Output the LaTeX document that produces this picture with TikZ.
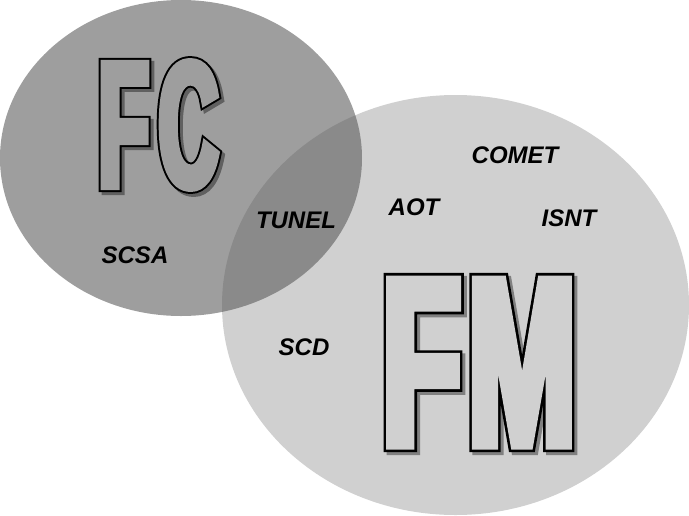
\documentclass[tikz,border=0pt]{standalone}
\usepackage{fontspec}
\setmainfont{Liberation Sans}

\newfontfamily\fcfont{Liberation Sans Bold}[FakeStretch=0.46,FakeBold=4]
\newfontfamily\fcrim{Liberation Sans Bold}[FakeStretch=0.46,FakeBold=6.2]
\newfontfamily\fmfont{Liberation Sans Bold}[FakeStretch=0.54,FakeBold=4]
\newfontfamily\fmrim{Liberation Sans Bold}[FakeStretch=0.54,FakeBold=6.2]

\definecolor{fmgray}{RGB}{208,208,208}
\definecolor{fcgray}{RGB}{86,86,86}
\definecolor{fcback}{RGB}{158,158,158}
\definecolor{fcshade}{RGB}{96,96,96}
\definecolor{fmshade}{RGB}{128,128,128}

% hollow letters: #1 rim font, #2 fill font, #3 fill colour, #4 shadow colour, #5 text
\newcommand\hollow[5]{%
  \rlap{\kern3pt\raisebox{-3pt}{#1\color{#4}#5}}%
  \rlap{#1\color{black}#5}%
  {#2\color{#3}#5}}

\tikzset{
  method/.style={inner sep=0pt, font=\bfseries\itshape\fontsize{24}{24}\selectfont},
  bigword/.style={inner sep=0pt, miter limit=2}
}

\begin{document}
\begin{tikzpicture}[x=1pt,y=-1pt]
  \useasboundingbox (0,0) rectangle (689,515);

  % the two sets
  \fill[fmgray] (455.5,305) ellipse [x radius=233.5pt, y radius=210pt];
  \fill[fcgray, fill opacity=.574] (181,158) ellipse [x radius=181pt, y radius=158pt];

  \begin{scope}[every node/.style={bigword}]
    \node (fc) at (158.5,126.5)
      {\hollow{\fcrim\fontsize{179}{179}\selectfont}{\fcfont\fontsize{179}{179}\selectfont}{fcback}{fcshade}{F\kern10pt C}};
    \node (fm) at (479,364)
      {\hollow{\fmrim\fontsize{239}{239}\selectfont}{\fmfont\fontsize{239}{239}\selectfont}{fmgray}{fmshade}{F\kern7pt M}};
  \end{scope}

  \begin{scope}[every node/.style={method}]
    \node (scsa)  at (135,255) {SCSA};
    \node (tunel) at (296,220) {TUNEL};
    \node (aot)   at (414,207) {AOT};
    \node (comet) at (515,155) {COMET};
    \node (isnt)  at (569,218) {ISNT};
    \node (scd)   at (304,347) {SCD};
  \end{scope}

\end{tikzpicture}
\end{document}
